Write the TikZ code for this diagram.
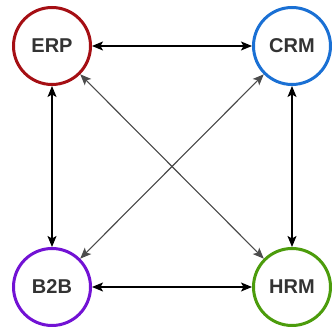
\documentclass[tikz,border=0pt]{standalone}
\usepackage{fontspec}
\setmainfont{Liberation Sans}
\usetikzlibrary{arrows.meta}
\definecolor{erpc}{HTML}{A50F14}
\definecolor{crmc}{HTML}{1A70D4}
\definecolor{b2bc}{HTML}{7212D4}
\definecolor{hrmc}{HTML}{4C9C0C}
\definecolor{txt}{HTML}{333333}
\begin{document}
\begin{tikzpicture}[x=1pt,y=1pt,
  sys/.style={circle,draw,line width=3pt,minimum size=77pt,inner sep=0pt,
    fill=white,text=txt,font=\bfseries\fontsize{20}{24}\selectfont},
  link/.style={{Stealth[length=11pt,width=9pt,inset=2.5pt]}-{Stealth[length=11pt,width=9pt,inset=2.5pt]},line width=1.4pt,black},
  cross/.style={link,line width=1.1pt,draw=black!70,fill=black}]
\useasboundingbox (0,0) rectangle (332,331);
\node[sys,draw=erpc] (erp) at (52,285) {ERP};
\node[sys,draw=crmc] (crm) at (292,285) {CRM};
\node[sys,draw=b2bc] (b2b) at (52,44) {B2B};
\node[sys,draw=hrmc] (hrm) at (292,44) {HRM};
\draw[link] (erp) -- (crm);
\draw[link] (b2b) -- (hrm);
\draw[link] (erp) -- (b2b);
\draw[link] (crm) -- (hrm);
\draw[cross] (erp) -- (hrm);
\draw[cross] (crm) -- (b2b);
\end{tikzpicture}
\end{document}
